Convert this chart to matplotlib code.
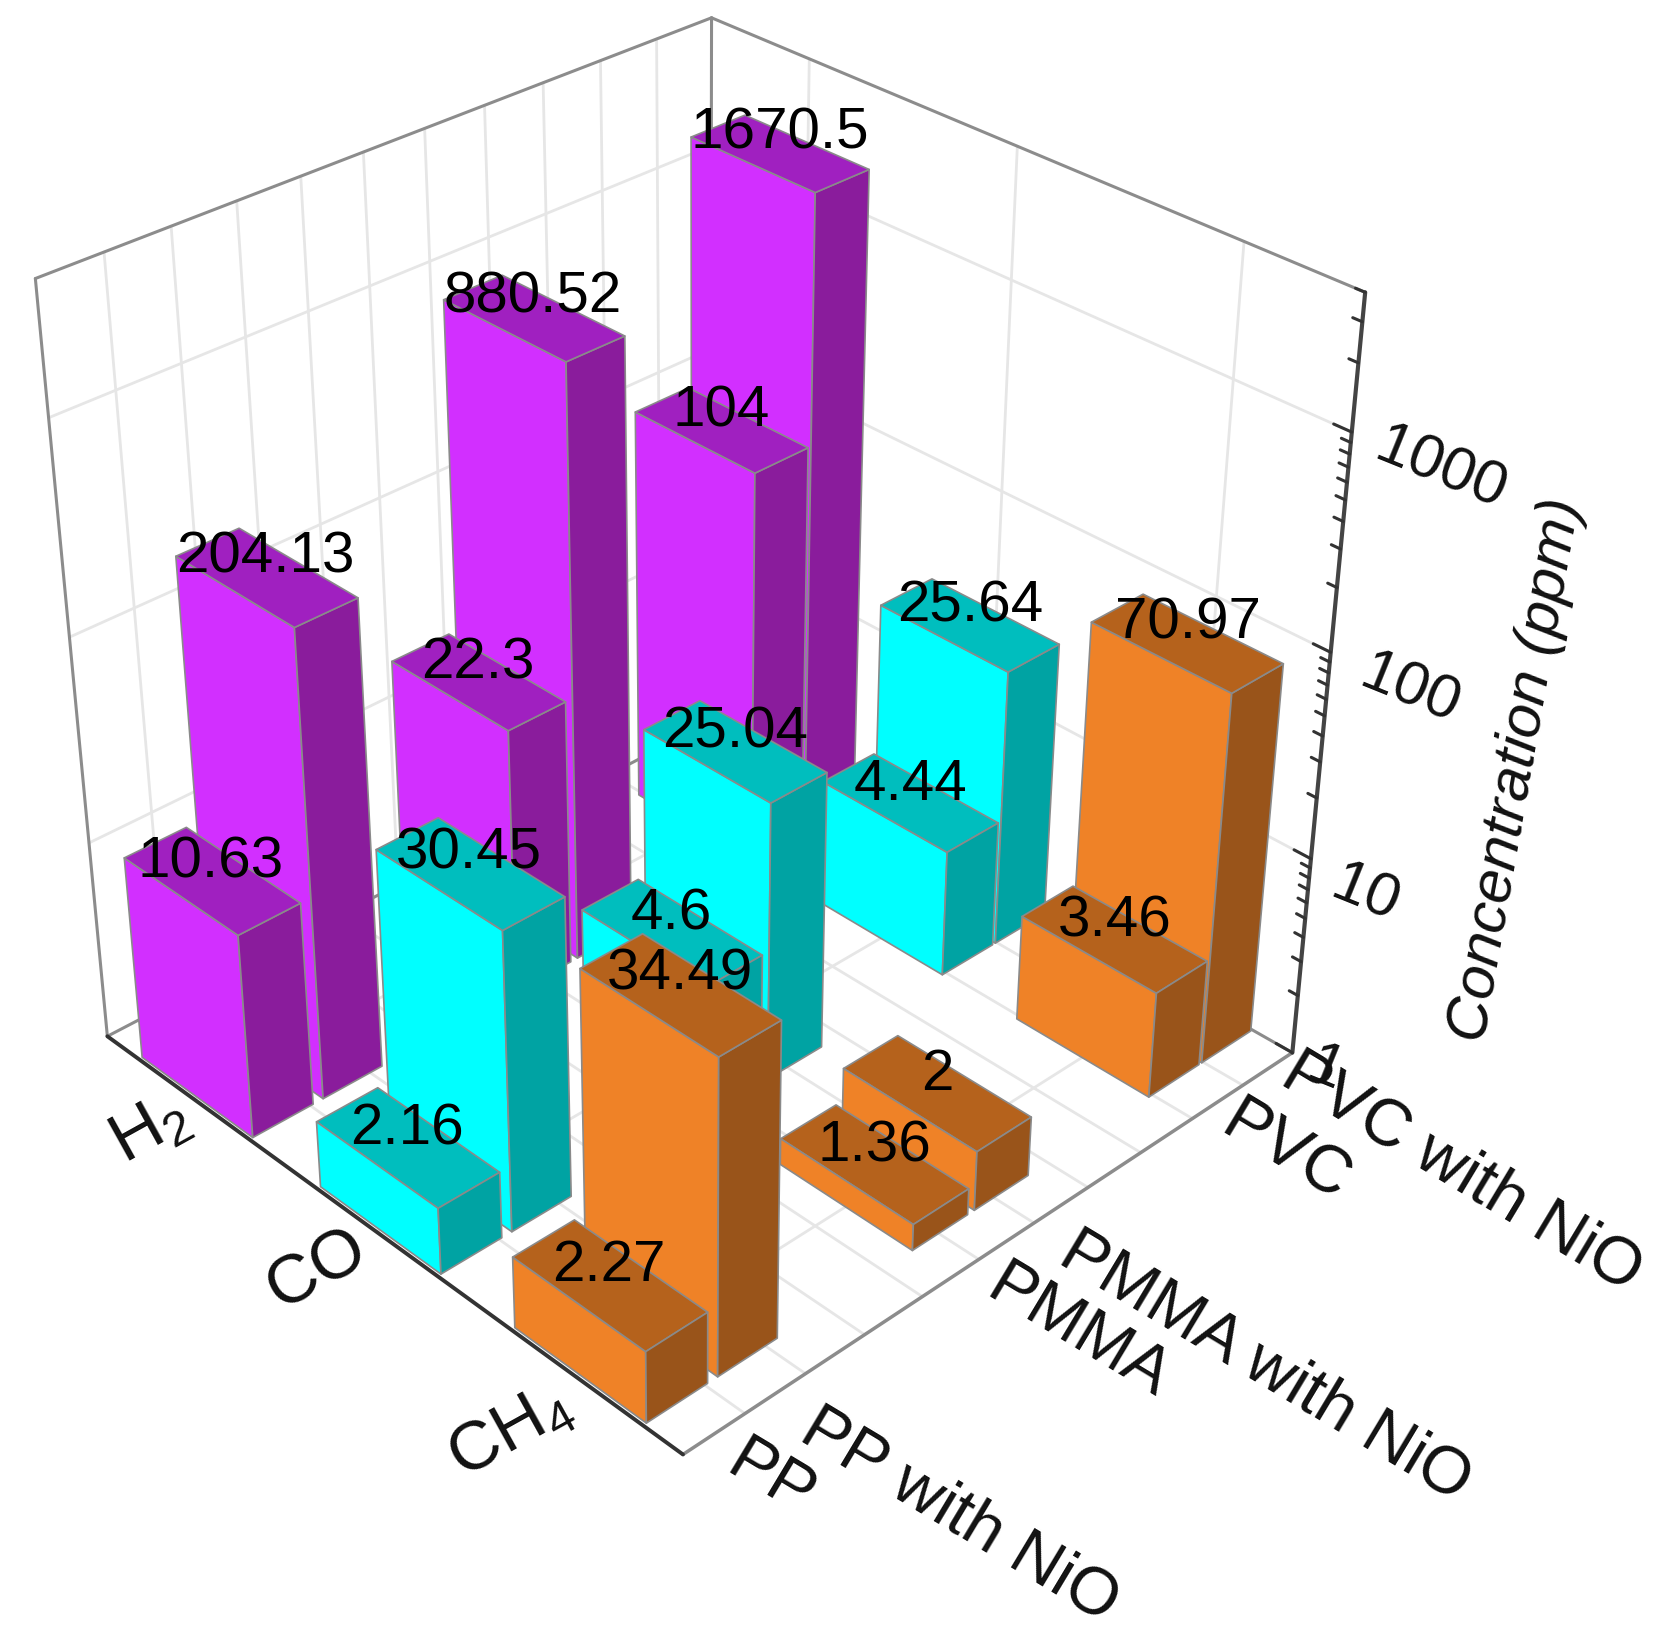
import numpy as np
import matplotlib
matplotlib.use("Agg")
import matplotlib.pyplot as plt

gases = ["H$_2$", "CO", "CH$_4$"]
materials = ["PP", "PP with NiO", "PMMA", "PMMA with NiO", "PVC", "PVC with NiO"]
h2 = [10.63, 204.13, 22.3, 880.52, 104, 1670.5]
co = [2.16, 30.45, 4.6, 25.04, 4.44, 25.64]
ch4 = [2.27, 34.49, 1.36, 2, 3.46, 70.97]
z_major = [1, 10, 100, 1000]
z_top = 4000

# bar layout on the floor, axes run 0..1
gas_pos = [1 / 6, 0.5, 5 / 6]
gas_w = 0.21
mat_pos = [0.05, 0.155, 0.457, 0.558, 0.857, 0.952]
mat_w = 0.09

# front, top, side
colors = [("#D22FFF", "#A020C0", "#8A1C9C"),
          ("#00FFFF", "#00BEBE", "#00A3A3"),
          ("#EF8227", "#B5621C", "#99541A")]

plt.rcParams["font.family"] = ["Liberation Sans", "DejaVu Sans"]
plt.rcParams["mathtext.fontset"] = "custom"
plt.rcParams["mathtext.rm"] = "Liberation Sans"

fig = plt.figure(figsize=(16.65, 16.47), dpi=100)
ax = fig.add_axes([-0.094, 0.0695, 1.0, 1.0], projection="3d")
ax.computed_zorder = False
ax.set_axis_off()
ax.view_init(elev=32.5, azim=-43.7)
ax.set_proj_type("persp", focal_length=0.47)
ax.set_box_aspect((1, 1, 0.92), zoom=1.01)

ztop = np.log10(z_top)
grey = "#8C8C8C"
light = "#E6E6E6"


def line(a, b, c, color=light, lw=2.0, zo=1):
    ax.plot(a, b, c, color=color, lw=lw, zorder=zo, solid_capstyle="round")


# grid
y_grid = np.arange(1, 11) / 11
for y in y_grid:
    line([0, 0], [y, y], [0, ztop])
    line([0, 1], [y, y], [0, 0])
for x in gas_pos:
    line([x, x], [1, 1], [0, ztop])
    line([x, x], [0, 1], [0, 0])
for t in z_major[1:]:
    z = np.log10(t)
    line([0, 0], [0, 1], [z, z])
    line([0, 1], [1, 1], [z, z])

# frame
line([0, 0], [0, 0], [0, ztop], grey, 2.2, 2)
line([0, 0], [1, 1], [0, ztop], grey, 2.2, 2)
line([0, 0], [0, 1], [ztop, ztop], grey, 2.2, 2)
line([0, 1], [1, 1], [ztop, ztop], grey, 2.2, 2)
line([0, 0], [0, 1], [0, 0], grey, 2.2, 2)
line([0, 1], [1, 1], [0, 0], grey, 2.2, 2)
line([1, 1], [0, 1], [0, 0], grey, 2.5, 2)

# bars, back to front
rows = [h2, co, ch4]
zo = 10
for i in range(3):
    front, top, side = colors[i]
    for j in range(5, -1, -1):
        v = rows[i][j]
        none = (0, 0, 0, 0)
        faces = [none, top, front, none, none, side]
        edges = [none, "#8A8A8A", "#8A8A8A", none, none, "#8A8A8A"]
        ax.bar3d(gas_pos[i] - gas_w / 2, mat_pos[j] - mat_w / 2, 0,
                 gas_w, mat_w, np.log10(v),
                 color=faces, edgecolor=edges, linewidth=1.2,
                 shade=False, zorder=zo)
        zo += 1

# axis lines on top of the bars
line([0, 1], [0, 0], [0, 0], "#333333", 2.8, 60)
line([1, 1], [1, 1], [0, ztop], "#444444", 3.0, 60)

# log ticks on the z axis
for d in range(4):
    for m in range(1, 10):
        t = m * 10.0 ** d
        if t > z_top:
            continue
        ln = 0.025 if m == 1 else 0.013
        z = np.log10(t)
        line([1 - ln, 1], [1, 1], [z, z], "#333333", 2.2, 60)

# value labels
for i in range(3):
    for j in range(6):
        v = rows[i][j]
        ax.text(gas_pos[i], mat_pos[j], np.log10(v) + 0.09, f"{v:g}",
                fontsize=42, ha="center", va="center", color="black", zorder=100)

# axis labels placed in figure pixels
W, H = 1665.0, 1647.0


def label(px, py, s, size, rot, **kw):
    fig.text(px / W, 1 - py / H, s, fontsize=size, rotation=rot, ha="center",
             va="center", rotation_mode="anchor", color="#111111", **kw)


gas_xy = [(150, 1130), (317, 1270), (510, 1432)]
for s, (px, py) in zip(gases, gas_xy):
    label(px, py, s, 50, 29)

mat_xy = [(770, 1480), (960, 1516), (1078, 1333), (1265, 1367), (1285, 1153), (1462, 1173)]
for s, (px, py) in zip(materials, mat_xy):
    label(px, py, s, 48, -31)

tick_xy = [(1325, 1070), (1365, 895), (1410, 690), (1440, 470)]
for t, (px, py) in zip(z_major, tick_xy):
    label(px, py, str(t), 44, -22)

label(1517, 770, "Concentration (ppm)", 43.5, 80, style="italic")

fig.savefig("out.png", dpi=100, facecolor="white")
